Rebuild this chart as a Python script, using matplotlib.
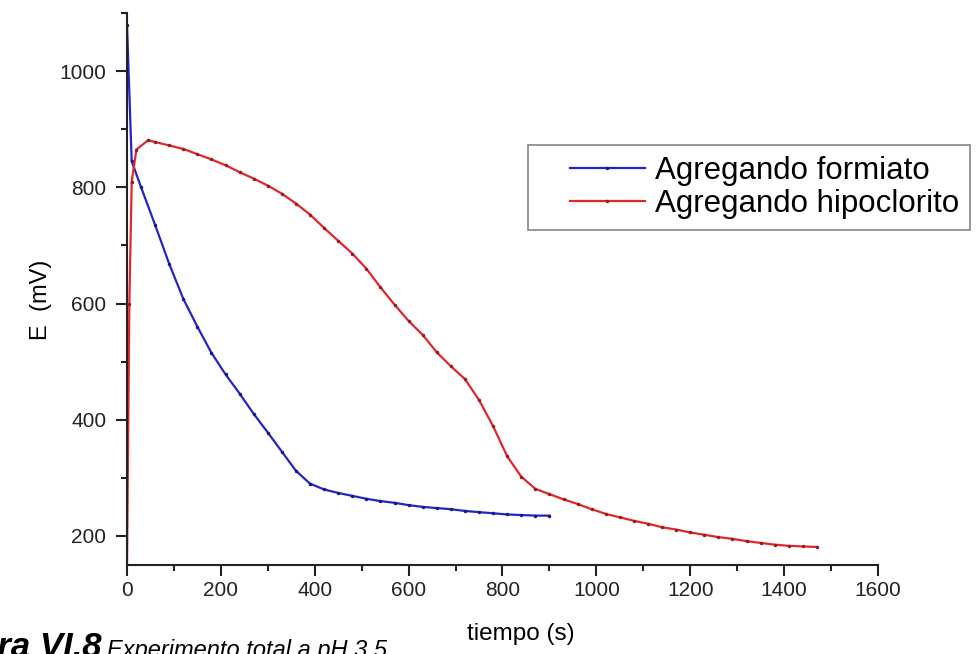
import numpy as np
import matplotlib.pyplot as plt
from matplotlib.ticker import MultipleLocator
from matplotlib.legend_handler import HandlerLine2D

plt.rcParams['font.family'] = ['Liberation Sans', 'DejaVu Sans']

# tiempo (s) / E (mV)
t_formiato = [0, 10, 30, 60, 90, 120, 150, 180, 210, 240, 270, 300, 330, 360,
              390, 420, 450, 480, 510, 540, 570, 600, 630, 660, 690, 720, 750,
              780, 810, 840, 870, 900]
E_formiato = [1080, 845, 800, 735, 668, 608, 560, 515, 478, 445, 410, 378, 345,
              312, 290, 280, 274, 269, 264, 260, 257, 253, 250, 248, 246, 243,
              241, 239, 237, 236, 235, 235]

t_hipoclorito = [0, 5, 10, 20, 45, 60, 90, 120, 150, 180, 210, 240, 270, 300,
                 330, 360, 390, 420, 450, 480, 510, 540, 570, 600, 630, 660, 690,
                 720, 750, 780, 810, 840, 870, 900, 930, 960, 990, 1020, 1050,
                 1080, 1110, 1140, 1170, 1200, 1230, 1260, 1290, 1320, 1350,
                 1380, 1410, 1440, 1470]
E_hipoclorito = [150, 600, 810, 865, 881, 878, 872, 866, 857, 848, 838, 826, 815,
                 803, 789, 772, 753, 730, 708, 686, 660, 628, 598, 570, 546, 516,
                 492, 470, 434, 389, 337, 302, 281, 272, 263, 255, 246, 238, 232,
                 226, 221, 215, 211, 206, 202, 198, 195, 191, 188, 185, 183, 182,
                 181]


class ShortLine(HandlerLine2D):
    # legend line drawn only on the right part of the handle box
    def get_xdata(self, legend, xdescent, ydescent, width, height, fontsize):
        x0 = -xdescent + 0.29 * width
        x1 = -xdescent + width
        return np.array([x0, x1]), np.array([(x0 + x1) / 2])


fig = plt.figure(figsize=(9.79, 6.54), dpi=100)
ax = fig.add_axes([127/979, 89/654, 751/979, 552/654])

ax.plot(t_formiato, E_formiato, color='#2424c8', lw=1.6, marker='.', ms=3,
        mfc='#1a1a80', mec='#1a1a80', label='Agregando formiato')
ax.plot(t_hipoclorito, E_hipoclorito, color='#e3262b', lw=1.6, marker='.', ms=3,
        mfc='#902020', mec='#902020', label='Agregando hipoclorito')

ax.set_xlim(0, 1600)
ax.set_ylim(150, 1100)
ax.xaxis.set_major_locator(MultipleLocator(200))
ax.xaxis.set_minor_locator(MultipleLocator(100))
ax.yaxis.set_minor_locator(MultipleLocator(100))
ax.set_yticks([200, 400, 600, 800, 1000])

for s in ['top', 'right']:
    ax.spines[s].set_visible(False)
for s in ['left', 'bottom']:
    ax.spines[s].set_linewidth(1.5)
    ax.spines[s].set_color('#222222')
ax.tick_params(which='major', direction='out', length=8, width=1.5, labelsize=15,
               colors='#222222')
ax.tick_params(axis='y', which='major', pad=7)
ax.tick_params(which='minor', direction='out', length=4, width=1.5, colors='#222222')

ax.set_xlabel('tiempo (s)', fontsize=17.5)
ax.xaxis.set_label_coords(0.525, -0.105)
ax.set_ylabel('E  (mV)', fontsize=17)
ax.yaxis.set_label_coords(-0.10, 0.48)

leg = ax.legend(loc='upper left', bbox_to_anchor=(528/979, 1 - 145/654),
                bbox_transform=fig.transFigure, fontsize=22.5, frameon=True,
                fancybox=False, handlelength=3.4, handletextpad=0.3,
                borderpad=0.35, labelspacing=0.1, borderaxespad=0,
                handler_map={plt.Line2D: ShortLine()})
leg.get_frame().set_edgecolor('#666666')
leg.get_frame().set_linewidth(1.2)

fig.text(0.104, -0.005, 'Figura VI.8', fontsize=25, fontweight='bold',
         fontstyle='italic', ha='right', va='baseline')
fig.text(0.109, -0.005, 'Experimento total a pH 3.5', fontsize=17,
         fontstyle='italic', ha='left', va='baseline')

fig.savefig('out.png', dpi=100)
